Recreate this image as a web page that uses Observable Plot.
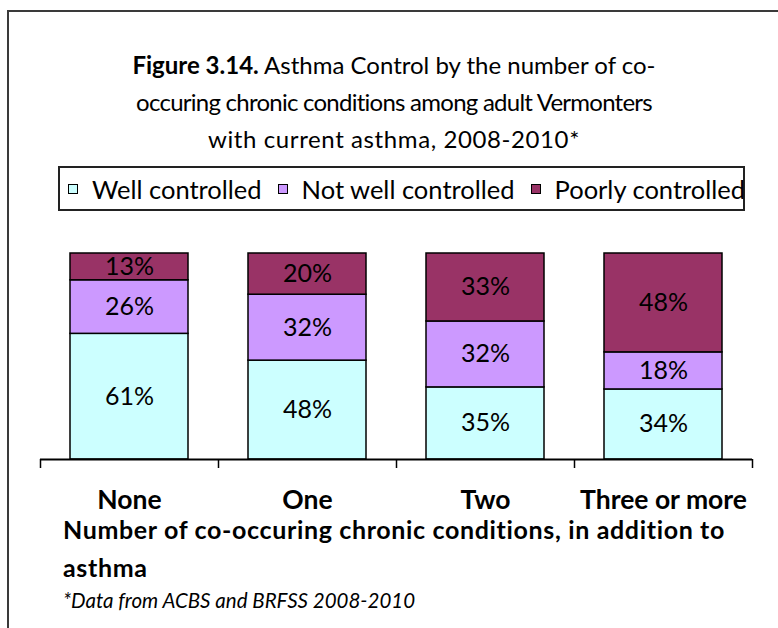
<!DOCTYPE html>
<html><head><meta charset="utf-8">
<script src="https://cdn.jsdelivr.net/npm/d3@7"></script>
<script src="https://cdn.jsdelivr.net/npm/@observablehq/plot@0.6"></script>
<style>
body{margin:0;background:#fff;width:778px;height:628px;overflow:hidden;position:relative;font-family:Lato,sans-serif;color:#000}
#frame{position:absolute;left:7px;top:10px;width:900px;height:900px;border-left:2px solid #3a3a3a;border-top:2px solid #3a3a3a}
#title{position:absolute;left:0;width:788px;top:46px;text-align:center;font-size:24px;line-height:37px;white-space:nowrap}
#title .l2{letter-spacing:-0.75px}
#title .l3{letter-spacing:0.6px}
#legend{position:absolute;left:58px;top:166px;width:687px;height:45px;box-sizing:border-box;border:2px solid #222;display:flex;align-items:center;padding-left:8px;font-size:25.5px;white-space:nowrap}
#legend .sw{width:10px;height:10px;box-sizing:border-box;border:1.5px solid #000;margin-right:14px;flex:none}
#legend .lab{margin-right:16px}
#chart{position:absolute;left:0;top:220px}
.xt{position:absolute;left:63px;font-size:25px;letter-spacing:0.65px;font-weight:bold;line-height:14px;white-space:nowrap}
#note{position:absolute;left:63px;top:588px;font-size:20.5px;font-style:italic;white-space:nowrap}
</style></head>
<body>
<div id="frame"></div>
<div id="title"><div><b>Figure 3.14.</b> Asthma Control by the number of co-</div><div class="l2">occuring chronic conditions among adult Vermonters</div><div class="l3">with current asthma, 2008-2010*</div></div>
<div id="legend"></div>
<div id="chart"></div>
<div class="xt" style="top:522.3px">Number of co-occuring chronic conditions, in addition to</div>
<div class="xt" style="top:560.3px">asthma</div>
<div id="note">*Data from ACBS and BRFSS 2008-2010</div>
<script>
const categories = ["None", "One", "Two", "Three or more"];
const series = ["Well controlled", "Not well controlled", "Poorly controlled"];
const colors = ["#CCFFFF", "#CC99FF", "#993366"];
const wellControlled = [61, 48, 35, 34];
const notWellControlled = [26, 32, 32, 18];
const poorlyControlled = [13, 20, 33, 48];

const seriesValues = [wellControlled, notWellControlled, poorlyControlled];
const rows = [];
categories.forEach((c, i) => {
  let acc = 0;
  series.forEach((s, j) => {
    const v = seriesValues[j][i];
    rows.push({category: c, series: s, value: v, x1: i, x2: i + 1, y1: acc, y2: acc + v});
    acc += v;
  });
});

const legend = document.getElementById("legend");
series.forEach((s, j) => {
  const sw = document.createElement("span");
  sw.className = "sw";
  sw.style.background = colors[j];
  const lab = document.createElement("span");
  lab.className = "lab";
  lab.textContent = s;
  legend.appendChild(sw);
  legend.appendChild(lab);
});

const plot = Plot.plot({
  width: 778,
  height: 400,
  marginLeft: 40,
  marginRight: 26,
  marginTop: 33,
  marginBottom: 161,
  x: {type: "linear", domain: [0, categories.length], axis: null},
  y: {domain: [0, 100], axis: null},
  color: {domain: series, range: colors},
  style: {fontFamily: "Lato, sans-serif", background: "transparent", overflow: "visible", color: "#000"},
  marks: [
    Plot.rectY(rows, {x1: "x1", x2: "x2", y1: "y1", y2: "y2", fill: "series", stroke: "#000", strokeWidth: 1.5, insetLeft: 30, insetRight: 30}),
    Plot.text(rows, {x: d => (d.x1 + d.x2) / 2, y: d => (d.y1 + d.y2) / 2, text: d => d.value + "%", fontSize: 25, fill: "#000"}),
    Plot.ruleY([0], {stroke: "#000", strokeWidth: 2}),
    Plot.axisX(d3.range(categories.length + 1), {tickSize: 9, tickFormat: () => "", stroke: "#000", strokeWidth: 1.5}),
    Plot.text(categories, {x: (d, i) => i + 0.5, y: () => 0, text: d => d, fontWeight: "bold", fontSize: 26.5, lineAnchor: "bottom", dy: 49, fill: "#000"})
  ]
});
document.getElementById("chart").appendChild(plot);
</script>
</body></html>
